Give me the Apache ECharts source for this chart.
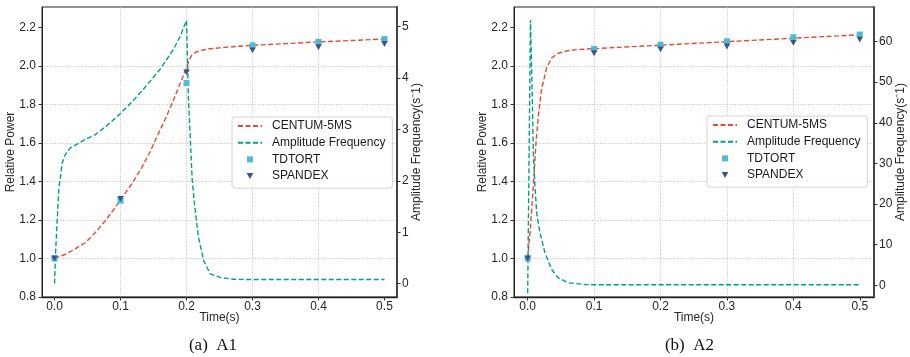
<!DOCTYPE html>
<html><head><meta charset="utf-8">
<script src="https://cdn.jsdelivr.net/npm/echarts@6/dist/echarts.min.js"></script>
<style>html,body{margin:0;padding:0;background:#fff}#c{width:910px;height:357px}</style>
</head><body><div id="c"></div>
<script>
// ---- tick labels ----
const timeTicks = [0, 0.1, 0.2, 0.3, 0.4, 0.5];
const powerTicks = [0.8, 1.0, 1.2, 1.4, 1.6, 1.8, 2.0, 2.2];
const a1FreqTicks = [0, 1, 2, 3, 4, 5];
const a2FreqTicks = [0, 10, 20, 30, 40, 50, 60];
const seriesNames = ['CENTUM-5MS', 'Amplitude Frequency', 'TDTORT', 'SPANDEX'];
const captions = ['(a)  A1', '(b)  A2'];

// ---- markers (both panels) ----
const markerTime = [0, 0.1, 0.2, 0.3, 0.4, 0.5];
const a1Tdtort = [1.0, 1.30, 1.91, 2.106, 2.124, 2.139];
const a1Spandex = [1.0, 1.309, 1.966, 2.08, 2.096, 2.113];
const a2Tdtort = [1.0, 2.088, 2.109, 2.127, 2.148, 2.162];
const a2Spandex = [1.0, 2.065, 2.085, 2.10, 2.119, 2.136];

// ---- A1 curves ----
const a1CentumT = [0, 0.0167, 0.032, 0.047, 0.062, 0.077, 0.092, 0.1, 0.117, 0.132, 0.145, 0.155, 0.168, 0.18, 0.193, 0.2, 0.204, 0.208, 0.214, 0.222, 0.235, 0.25, 0.27, 0.3, 0.35, 0.4, 0.45, 0.5];
const a1CentumP = [1.0, 1.022, 1.051, 1.083, 1.135, 1.196, 1.265, 1.305, 1.387, 1.47, 1.555, 1.63, 1.725, 1.82, 1.93, 1.99, 2.03, 2.055, 2.07, 2.08, 2.088, 2.093, 2.099, 2.106, 2.115, 2.124, 2.131, 2.139];
const a1FreqT = [0, 0.0015, 0.004, 0.0067, 0.009, 0.0117, 0.0167, 0.024, 0.035, 0.046, 0.062, 0.08, 0.1, 0.12, 0.14, 0.16, 0.18, 0.19, 0.2, 0.203, 0.2086, 0.212, 0.218, 0.226, 0.236, 0.251, 0.271, 0.3, 0.35, 0.4, 0.45, 0.5];
const a1FreqV = [0, 0.58, 1.23, 1.88, 2.07, 2.35, 2.52, 2.64, 2.72, 2.8, 2.9, 3.08, 3.31, 3.57, 3.86, 4.17, 4.55, 4.8, 5.12, 3.58, 2.02, 1.56, 0.91, 0.45, 0.19, 0.12, 0.085, 0.08, 0.08, 0.08, 0.08, 0.08];

// ---- A2 curves ----
const a2CentumT = [0, 0.0035, 0.007, 0.01, 0.0125, 0.016, 0.021, 0.0286, 0.036, 0.046, 0.06, 0.075, 0.09, 0.1, 0.2, 0.3, 0.4, 0.5];
const a2CentumP = [1.0, 1.13, 1.30, 1.46, 1.60, 1.74, 1.88, 1.99, 2.04, 2.065, 2.078, 2.084, 2.087, 2.089, 2.107, 2.125, 2.143, 2.161];
const a2FreqT = [0, 0.0042, 0.0048, 0.007, 0.0085, 0.011, 0.0135, 0.0185, 0.026, 0.036, 0.046, 0.061, 0.086, 0.1, 0.2, 0.3, 0.4, 0.5];
const a2FreqV = [-2, 65.3, 65.3, 45.7, 32.6, 24.3, 17.8, 12.9, 8.0, 3.9, 1.8, 0.6, 0.17, 0.1, 0.1, 0.1, 0.1, 0.1];

const zip = (xs, ys) => xs.map((x, i) => [x, ys[i]]);
const SANS = "'Liberation Sans', Arial, sans-serif";
const TXT = '#262626';
const RED = '#E64B35', TEAL = '#00A087', CYAN = '#4DBBD5', NAVY = '#3C5488';
const SQUARE = 'path://M0,0L10,0L10,10L0,10Z';
const TRI_DOWN = 'path://M0,0L10,0L5,9Z';

const chart = echarts.init(document.getElementById('c'), null, {renderer: 'canvas'});

function xAx(grid, min, max) {
  return {
    gridIndex: grid, type: 'value', min: min, max: max,
    name: 'Time(s)', nameLocation: 'middle', nameGap: 15, nameMoveOverlap: false,
    nameTextStyle: {fontSize: 12, color: TXT, fontFamily: SANS},
    axisLine: {show: true, onZero: false, lineStyle: {color: '#222', width: 1.3}},
    axisTick: {show: true, inside: false, length: 3.5, customValues: timeTicks, lineStyle: {color: '#333', width: 1}},
    axisLabel: {customValues: timeTicks, formatter: v => v.toFixed(1), margin: 4, fontSize: 12, color: TXT, fontFamily: SANS},
    splitLine: {show: true, showMinLine: false, showMaxLine: false, lineStyle: {color: '#bcbcbc', type: [1.2, 1.4], width: 0.8}}
  };
}
function yLeft(grid) {
  return {
    gridIndex: grid, type: 'value', position: 'left', min: 0.8, max: 2.305,
    name: 'Relative Power', nameLocation: 'middle', nameGap: 25, nameRotate: 90, nameMoveOverlap: false,
    nameTextStyle: {fontSize: 12, color: TXT, fontFamily: SANS},
    axisLine: {show: true, onZero: false, lineStyle: {color: '#222', width: 1}},
    axisTick: {show: true, inside: false, length: 3.5, customValues: powerTicks, lineStyle: {color: '#333', width: 1}},
    axisLabel: {customValues: powerTicks, formatter: v => v.toFixed(1), margin: 6, fontSize: 12, color: TXT, fontFamily: SANS},
    splitLine: {show: true, showMinLine: false, showMaxLine: false, lineStyle: {color: '#bcbcbc', type: [1.2, 1.4], width: 0.8}}
  };
}
function yRight(grid, min, max, ticks, gap) {
  return {
    gridIndex: grid, type: 'value', position: 'right', min: min, max: max,
    name: 'Amplitude Frequency(s\u207B1)', nameLocation: 'middle', nameGap: gap, nameRotate: 90, nameMoveOverlap: false,
    nameTextStyle: {fontSize: 12, color: TXT, fontFamily: SANS},
    axisLine: {show: true, onZero: false, lineStyle: {color: '#444', width: 2}},
    axisTick: {show: true, inside: false, length: 3.5, customValues: ticks, lineStyle: {color: '#333', width: 1}},
    axisLabel: {customValues: ticks, formatter: v => String(v), margin: 5, fontSize: 12, color: TXT, fontFamily: SANS},
    splitLine: {show: false}
  };
}
function lineSeries(name, xi, yi, data, color) {
  return {
    name: name, type: 'line', xAxisIndex: xi, yAxisIndex: yi, data: data,
    symbol: 'none', showSymbol: false, smooth: false, clip: true, z: 2,
    lineStyle: {color: color, width: 1.4, type: [5, 2.5]}, itemStyle: {color: color},
    emphasis: {disabled: true}, animation: false
  };
}
function scatterSeries(name, xi, yi, data, color, symbol, size, z) {
  return {
    name: name, type: 'scatter', xAxisIndex: xi, yAxisIndex: yi, data: data,
    symbol: symbol, symbolSize: size, symbolKeepAspect: true, z: z,
    itemStyle: {color: color, opacity: 1}, emphasis: {disabled: true}, animation: false
  };
}
function legend(left, top) {
  return {
    show: true, orient: 'vertical', left: left, top: top,
    padding: [3, 7, 6, 5], itemGap: 4.7, itemWidth: 24, itemHeight: 6,
    symbolKeepAspect: true,
    backgroundColor: 'rgba(255,255,255,0.85)', borderColor: '#d4d4d4', borderWidth: 1, borderRadius: 3,
    selectedMode: false,
    textStyle: {fontSize: 12, color: '#1a1a1a', fontFamily: SANS, padding: [0, 0, 0, 5]},
    data: [
      {name: seriesNames[0], itemStyle: {opacity: 0}},
      {name: seriesNames[1], itemStyle: {opacity: 0}},
      {name: seriesNames[2], icon: SQUARE},
      {name: seriesNames[3], icon: TRI_DOWN}
    ]
  };
}

const option = {
  animation: false,
  backgroundColor: '#fff',
  textStyle: {fontFamily: SANS},
  grid: [
    {left: 42, top: 7, width: 355, height: 290, show: true, borderColor: '#222', borderWidth: 1, backgroundColor: 'transparent', containLabel: false, outerBoundsMode: 'none'},
    {left: 514, top: 7, width: 360, height: 290, show: true, borderColor: '#222', borderWidth: 1, backgroundColor: 'transparent', containLabel: false, outerBoundsMode: 'none'}
  ],
  xAxis: [xAx(0, -0.019, 0.519), xAx(1, -0.0206, 0.5214)],
  yAxis: [
    yLeft(0),
    yRight(0, -0.26, 5.38, a1FreqTicks, 14),
    yLeft(1),
    yRight(1, -2.9, 68.5, a2FreqTicks, 21)
  ],
  legend: [legend(232, 117), legend(707, 116)],
  series: [
    lineSeries(seriesNames[0], 0, 0, zip(a1CentumT, a1CentumP), RED),
    lineSeries(seriesNames[1], 0, 1, zip(a1FreqT, a1FreqV), TEAL),
    scatterSeries(seriesNames[2], 0, 0, zip(markerTime, a1Tdtort), CYAN, SQUARE, 6, 3),
    scatterSeries(seriesNames[3], 0, 0, zip(markerTime, a1Spandex), NAVY, TRI_DOWN, 6.5, 4),
    lineSeries(seriesNames[0], 1, 2, zip(a2CentumT, a2CentumP), RED),
    lineSeries(seriesNames[1], 1, 3, zip(a2FreqT, a2FreqV), TEAL),
    scatterSeries(seriesNames[2], 1, 2, zip(markerTime, a2Tdtort), CYAN, SQUARE, 6, 3),
    scatterSeries(seriesNames[3], 1, 2, zip(markerTime, a2Spandex), NAVY, TRI_DOWN, 6.5, 4)
  ],
  graphic: [
    {type: 'text', x: 213, y: 346, z: 10, style: {text: captions[0], font: "17px 'Liberation Serif', 'Times New Roman', serif", fill: '#111', align: 'center', verticalAlign: 'middle'}},
    {type: 'text', x: 689.5, y: 346, z: 10, style: {text: captions[1], font: "17px 'Liberation Serif', 'Times New Roman', serif", fill: '#111', align: 'center', verticalAlign: 'middle'}}
  ]
};
chart.setOption(option);
</script>
</body></html>
